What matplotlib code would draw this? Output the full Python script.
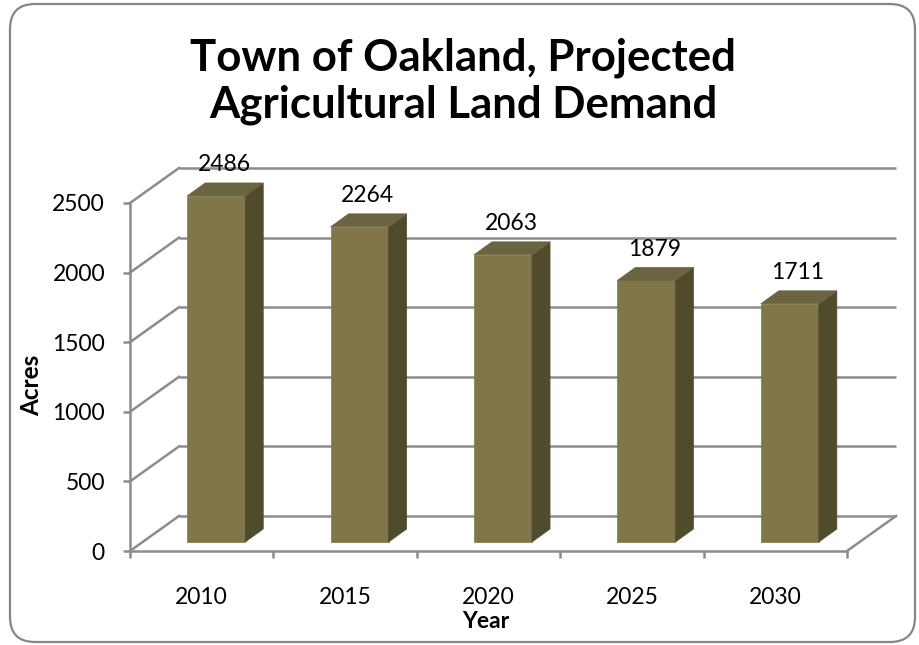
import numpy as np
import matplotlib
matplotlib.use('Agg')
import matplotlib.pyplot as plt
from matplotlib.patches import Polygon, FancyBboxPatch
from matplotlib.transforms import ScaledTranslation, IdentityTransform

# data
years = ['2010', '2015', '2020', '2025', '2030']
acres = [2486, 2264, 2063, 1879, 1711]
yticks = [0, 500, 1000, 1500, 2000, 2500]

# colours
FRONT = '#7f7749'
SIDE = '#504b2d'
TOP = '#6b6440'
GRID = '#8c8c8c'

plt.rcParams['font.family'] = ['Lato', 'DejaVu Sans']

DPI = 100
fig = plt.figure(figsize=(9.19, 6.45), dpi=DPI)
ax = fig.add_axes([130/919., 94/645., 717/919., 348/645.])
ax.set_xlim(0, len(years))
ax.set_ylim(0, 2500)

# depth offsets (pixels) for the pseudo 3D look
BACK = (49, 35)
FFACE = (14.5, 9)
BDEPTH = (18, 13)


def shifted(px, py):
    return ax.transData + ScaledTranslation(px / DPI, py / DPI, fig.dpi_scale_trans)

# back wall gridlines and left wall diagonals
for v in yticks:
    ax.plot([0, len(years)], [v, v], color=GRID, lw=1.8, transform=shifted(*BACK),
            clip_on=False, zorder=1, solid_capstyle='butt')
    p0 = ax.transData.transform((0, v))
    ax.plot([p0[0], p0[0] + BACK[0]], [p0[1], p0[1] + BACK[1]], color=GRID, lw=1.8,
            transform=IdentityTransform(), clip_on=False, zorder=1)
# right floor edge
p5 = ax.transData.transform((len(years), 0))
ax.plot([p5[0], p5[0] + BACK[0]], [p5[1], p5[1] + BACK[1]], color=GRID, lw=1.8,
        transform=IdentityTransform(), clip_on=False, zorder=1)

# bars
width = 0.405
for i, v in enumerate(acres):
    x0 = i + 0.5 - width / 2
    x1 = i + 0.5 + width / 2
    pts = ax.transData.transform([(x0, 0), (x1, 0), (x1, v), (x0, v)])
    f = pts + np.array(FFACE)
    b = f + np.array(BDEPTH)
    front = Polygon(f, closed=True, facecolor=FRONT, edgecolor=FRONT, lw=0.5,
                    transform=IdentityTransform(), clip_on=False, zorder=3)
    side = Polygon([f[1], f[2], b[2], b[1]], closed=True, facecolor=SIDE, edgecolor=SIDE,
                   lw=0.5, transform=IdentityTransform(), clip_on=False, zorder=3)
    top = Polygon([f[3], f[2], b[2], b[3]], closed=True, facecolor=TOP, edgecolor=TOP,
                  lw=0.5, transform=IdentityTransform(), clip_on=False, zorder=3)
    ax.add_patch(front)
    ax.add_patch(side)
    ax.add_patch(top)
    ax.annotate(str(v), xy=(i + 0.5, v), xytext=(16.2, 28.8), textcoords='offset points',
                ha='center', va='center', fontsize=16.5, color='black', zorder=4)

# axes styling
for s in ['top', 'right']:
    ax.spines[s].set_visible(False)
for s in ['left', 'bottom']:
    ax.spines[s].set_color(GRID)
    ax.spines[s].set_linewidth(1.8)
ax.set_xticks(np.arange(len(years) + 1))
ax.set_xticklabels([])
ax.set_xticks(np.arange(len(years)) + 0.5, minor=True)
ax.set_xticklabels(years, minor=True)
ax.tick_params(axis='x', which='major', length=5, width=1.8, color=GRID)
ax.tick_params(axis='x', which='minor', length=0, pad=26, labelsize=16.5)
ax.set_yticks(yticks)
ax.set_yticklabels([str(t) for t in yticks])
ax.tick_params(axis='y', length=5, width=1.8, color=GRID, pad=13, labelsize=16.5)
ax.patch.set_visible(False)

fig.text(32/919., 1 - 385/645., 'Acres', rotation=90, ha='center', va='center',
         fontsize=17.5, fontweight='bold')
fig.text(486/919., 1 - 621/645., 'Year', ha='center', va='center',
         fontsize=16.5, fontweight='bold')
fig.text(463/919., 1 - 81/645., 'Town of Oakland, Projected\nAgricultural Land Demand',
         ha='center', va='center', fontsize=31.5, fontweight='bold', linespacing=1.2)

# rounded chart border
border = FancyBboxPatch((10, 3), 905, 638, boxstyle='round,pad=0,rounding_size=25',
                        facecolor='none', edgecolor='#868686', lw=1.6,
                        transform=IdentityTransform())
fig.patches.append(border)

fig.savefig('out.png', dpi=DPI)
